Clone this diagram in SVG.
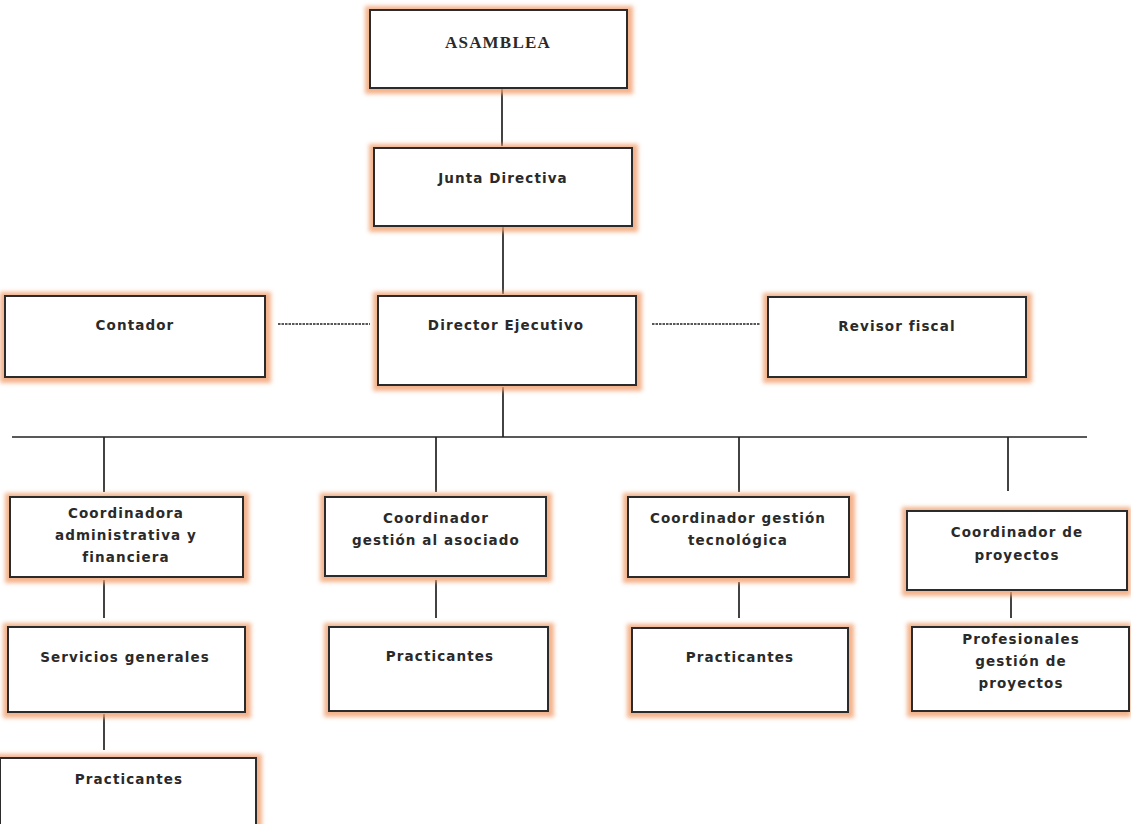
<svg xmlns="http://www.w3.org/2000/svg" width="1131" height="824" viewBox="0 0 1131 824">
<defs>
<filter id="glow" x="-10%" y="-20%" width="120%" height="140%">
<feGaussianBlur stdDeviation="2.2"/>
</filter>
</defs>
<style>
.box{fill:#ffffff;stroke:#2b2b2b;stroke-width:2}
.halo{fill:#f0a070;opacity:0.8;filter:url(#glow)}
.t{font-family:"DejaVu Sans",sans-serif;font-weight:bold;font-size:13.5px;letter-spacing:1.1px;fill:#2a2a2a;text-anchor:middle}
.ts{font-family:"Liberation Serif",serif;font-weight:bold;font-size:17px;letter-spacing:1.2px;fill:#2a2a2a;text-anchor:middle}
.ln{stroke:#222;stroke-width:1.7;fill:none}
.dash{stroke:#222;stroke-width:1.3;stroke-dasharray:2.5 1;fill:none}
</style>
<rect width="1131" height="824" fill="#ffffff"/>
<g id="connectors">
<line class="ln" x1="502" y1="89" x2="502" y2="146"/>
<line class="ln" x1="503" y1="227" x2="503" y2="294"/>
<line class="dash" x1="278" y1="324" x2="370" y2="324"/>
<line class="dash" x1="652" y1="324" x2="760" y2="324"/>
<line class="ln" x1="503" y1="387" x2="503" y2="437"/>
<line class="ln" x1="12" y1="437" x2="1087" y2="437"/>
<line class="ln" x1="104" y1="437" x2="104" y2="492"/>
<line class="ln" x1="436" y1="437" x2="436" y2="492"/>
<line class="ln" x1="739" y1="437" x2="739" y2="492"/>
<line class="ln" x1="1008" y1="437" x2="1008" y2="491"/>
<line class="ln" x1="104" y1="580" x2="104" y2="618"/>
<line class="ln" x1="436" y1="580" x2="436" y2="618"/>
<line class="ln" x1="739" y1="582" x2="739" y2="618"/>
<line class="ln" x1="1011" y1="592" x2="1011" y2="618"/>
<line class="ln" x1="104" y1="714" x2="104" y2="750"/>
</g>
<g id="asamblea">
<rect class="halo" x="365" y="6" width="268" height="88"/>
<rect class="box" x="370" y="10" width="257" height="78"/>
<text class="ts" x="498" y="48">ASAMBLEA</text>
</g>
<g id="junta">
<rect class="halo" x="369" y="144" width="269" height="88"/>
<rect class="box" x="374" y="148" width="258" height="78"/>
<text class="t" x="503" y="183">Junta Directiva</text>
</g>
<g id="contador">
<rect class="halo" x="0" y="292" width="271" height="91"/>
<rect class="box" x="5" y="296" width="260" height="81"/>
<text class="t" x="135" y="330">Contador</text>
</g>
<g id="director">
<rect class="halo" x="373" y="292" width="269" height="99"/>
<rect class="box" x="378" y="296" width="258" height="89"/>
<text class="t" x="506" y="330">Director Ejecutivo</text>
</g>
<g id="revisor">
<rect class="halo" x="763" y="293" width="269" height="90"/>
<rect class="box" x="768" y="297" width="258" height="80"/>
<text class="t" x="897" y="331">Revisor fiscal</text>
</g>
<g id="coord-admin">
<rect class="halo" x="5" y="493" width="244" height="90"/>
<rect class="box" x="10" y="497" width="233" height="80"/>
<text class="t" x="126" y="518">Coordinadora</text>
<text class="t" x="126" y="540">administrativa  y</text>
<text class="t" x="126" y="562">financiera</text>
</g>
<g id="coord-asociado">
<rect class="halo" x="320" y="493" width="232" height="89"/>
<rect class="box" x="325" y="497" width="221" height="79"/>
<text class="t" x="436" y="523">Coordinador</text>
<text class="t" x="436" y="545">gestión al asociado</text>
</g>
<g id="coord-tecnologica">
<rect class="halo" x="623" y="493" width="232" height="90"/>
<rect class="box" x="628" y="497" width="221" height="80"/>
<text class="t" x="738" y="523">Coordinador  gestión</text>
<text class="t" x="738" y="545">tecnológica</text>
</g>
<g id="coord-proyectos">
<rect class="halo" x="902" y="507" width="229" height="89"/>
<rect class="box" x="907" y="511" width="220" height="79"/>
<text class="t" x="1017" y="537">Coordinador  de</text>
<text class="t" x="1017" y="560">proyectos</text>
</g>
<g id="servicios">
<rect class="halo" x="3" y="623" width="248" height="95"/>
<rect class="box" x="8" y="627" width="237" height="85"/>
<text class="t" x="125" y="662">Servicios  generales</text>
</g>
<g id="practicantes-asociado">
<rect class="halo" x="324" y="623" width="230" height="94"/>
<rect class="box" x="329" y="627" width="219" height="84"/>
<text class="t" x="440" y="661">Practicantes</text>
</g>
<g id="practicantes-tecnologica">
<rect class="halo" x="627" y="624" width="227" height="94"/>
<rect class="box" x="632" y="628" width="216" height="84"/>
<text class="t" x="740" y="662">Practicantes</text>
</g>
<g id="profesionales">
<rect class="halo" x="907" y="623" width="224" height="94"/>
<rect class="box" x="912" y="627" width="217" height="84"/>
<text class="t" x="1021" y="644">Profesionales</text>
<text class="t" x="1021" y="666">gestión de</text>
<text class="t" x="1021" y="688">proyectos</text>
</g>
<g id="practicantes-servicios">
<rect class="halo" x="-5" y="754" width="267" height="82"/>
<rect class="box" x="0" y="758" width="256" height="80"/>
<text class="t" x="129" y="784">Practicantes</text>
</g>
</svg>
